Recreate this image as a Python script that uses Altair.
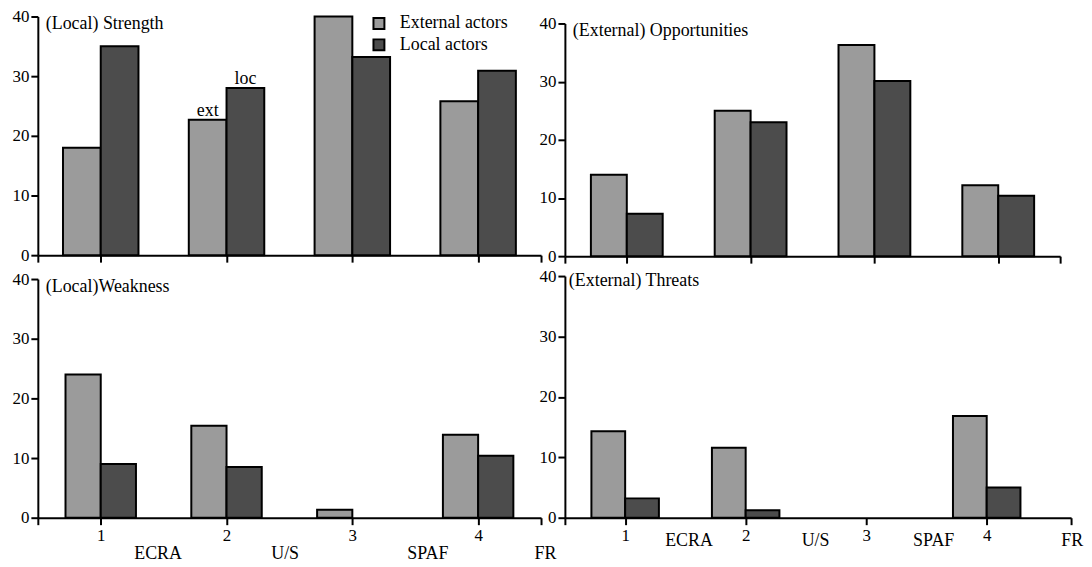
import altair as alt
import pandas as pd

categories = [1, 2, 3, 4]
series_names = ["External actors", "Local actors"]
series_colors = ["#9b9b9b", "#4c4c4c"]
panel_titles = ["(Local) Strength", "(External) Opportunities",
                "(Local)Weakness", "(External) Threats"]

strength_ext = [18.0, 22.7, 40.0, 25.8]
strength_loc = [35.0, 28.0, 33.2, 30.9]
opp_ext = [14.0, 25.0, 36.3, 12.2]
opp_loc = [7.3, 23.0, 30.1, 10.4]
weak_ext = [24.0, 15.4, 1.35, 13.9]
weak_loc = [9.0, 8.5, 0.0, 10.4]
threat_ext = [14.3, 11.6, 0.0, 16.85]
threat_loc = [3.2, 1.25, 0.0, 5.0]

y_ticks = [0, 10, 20, 30, 40]
group_names = ["ECRA", "U/S", "SPAF", "FR"]
group_pos_left = [1.456, 2.466, 3.6, 4.535]
group_pos_right = [1.53, 2.58, 3.56, 4.71]
annot_texts = ["ext", "loc"]

FONT = "Liberation Serif"


def panel(ext, loc, title, width, height, top_gap, xmax, barw, show_labels,
          group_pos=None, group_dy=0, legend=False, annotate=False,
          title_x=8, title_y=8):
    rows = []
    for c, e, l in zip(categories, ext, loc):
        if e > 0:
            rows.append({"cat": c, "actor": series_names[0], "value": e,
                         "x0": c - barw, "x1": c})
        if l > 0:
            rows.append({"cat": c, "actor": series_names[1], "value": l,
                         "x0": c, "x1": c + barw})
    df = pd.DataFrame(rows)

    if show_labels:
        xaxis = alt.Axis(values=[0.5, 1, 2, 3, 4, xmax], title=None, grid=False,
                         labelExpr="datum.value % 1 == 0 ? format(datum.value, 'd') : ''",
                         tickSize=7, labelPadding=3, labelFlush=False)
    else:
        xaxis = alt.Axis(values=[0.5, 1, 2, 3, 4, xmax], title=None, grid=False,
                         labels=False, tickSize=7)
    xs = alt.Scale(domain=[0.5, xmax], nice=False, zero=False)
    ys = alt.Scale(domain=[0, 40], nice=False, range=[height, top_gap])
    yaxis = alt.Axis(values=y_ticks, title=None, grid=False, tickSize=7,
                     labelPadding=2)

    if legend:
        leg = alt.Legend(orient="none", legendX=334, legendY=-2, title=None,
                         symbolType="square", symbolSize=121,
                         symbolStrokeColor="black", symbolStrokeWidth=2,
                         labelFont=FONT, labelFontSize=18, labelColor="black",
                         labelOffset=12, rowPadding=1.5, padding=0)
    else:
        leg = None

    bars = alt.Chart(df).mark_bar(stroke="black", strokeWidth=2).encode(
        x=alt.X("x0:Q", scale=xs, axis=xaxis),
        x2="x1:Q",
        y=alt.Y("value:Q", scale=ys, axis=yaxis),
        y2=alt.datum(0),
        color=alt.Color("actor:N",
                        scale=alt.Scale(domain=series_names, range=series_colors),
                        legend=leg),
    )

    ttl = alt.Chart(pd.DataFrame({"t": [title]})).mark_text(
        align="left", baseline="middle", font=FONT, fontSize=18, color="black"
    ).encode(x=alt.value(title_x), y=alt.value(top_gap + title_y), text="t:N")

    layers = [bars, ttl]

    if group_pos is not None:
        gdf = pd.DataFrame({"x0": group_pos, "name": group_names})
        glab = alt.Chart(gdf).mark_text(
            baseline="middle", font=FONT, fontSize=18, color="black", dy=group_dy
        ).encode(x=alt.X("x0:Q", title=None), y=alt.datum(0), text="name:N")
        layers.append(glab)

    if annotate:
        adf = pd.DataFrame({
            "x0": [2 - barw / 2, 2 + barw / 2],
            "value": [ext[1], loc[1]],
            "txt": annot_texts,
        })
        ann = alt.Chart(adf).mark_text(
            baseline="alphabetic", font=FONT, fontSize=18, color="black", dy=-4
        ).encode(x=alt.X("x0:Q", title=None), y=alt.Y("value:Q", title=None),
                 text="txt:N")
        layers.append(ann)

    return alt.layer(*layers).properties(width=width, height=height)


tl = panel(strength_ext, strength_loc, panel_titles[0], 506, 240, 0, 4.5, 0.30,
           False, legend=True, annotate=True, title_x=8, title_y=8)
tr = panel(opp_ext, opp_loc, panel_titles[1], 498, 241, 7, 4.5, 0.29,
           False, title_x=8, title_y=8)
bl = panel(weak_ext, weak_loc, panel_titles[2], 506, 243, 3, 4.5, 0.28,
           True, group_pos=group_pos_left, group_dy=37, title_x=8, title_y=8)
br = panel(threat_ext, threat_loc, panel_titles[3], 509, 243, 0, 4.7, 0.28,
           True, group_pos=group_pos_right, group_dy=23, title_x=4, title_y=5)

chart = alt.concat(
    tl, tr, bl, br, columns=2, bounds="flush",
    spacing={"row": 20, "column": 24},
).resolve_scale(color="independent").properties(
    padding={"left": 4, "top": -2, "right": 0, "bottom": 0}
).configure_view(stroke=None).configure_axis(
    labelFont=FONT, labelFontSize=17, labelColor="black",
    domainColor="black", tickColor="black", domainWidth=2, tickWidth=2,
).configure_text(font=FONT)

chart.save("out.html", embed_options={"renderer": "svg", "actions": False})
